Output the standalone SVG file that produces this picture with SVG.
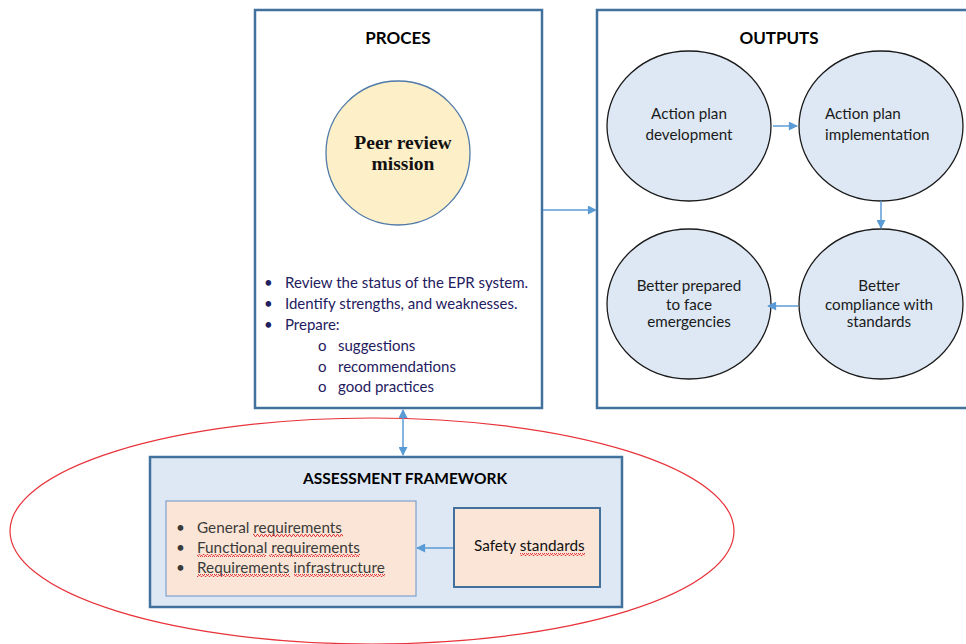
<svg xmlns="http://www.w3.org/2000/svg" width="966" height="644" viewBox="0 0 966 644">
  <style>
    .frame { fill: #ffffff; stroke: #41719c; stroke-width: 2.5; }
    .title { font-family: Lato, "Liberation Sans", sans-serif; font-weight: bold; fill: #000; text-anchor: middle; }
    .proc { font-family: Lato, "Liberation Sans", sans-serif; font-size: 15px; fill: #1f2060; }
    .out-circle { fill: #dde8f4; stroke: #1a1a1a; stroke-width: 1.3; }
    .out-text { font-family: Lato, "Liberation Sans", sans-serif; font-size: 15.2px; fill: #1a1a1a; }
    .list { font-family: Lato, "Liberation Sans", sans-serif; font-size: 15.3px; fill: #3a3a3a; }
    .conn { stroke: #5b9bd5; stroke-width: 1.5; fill: none; }
    .spell { fill: url(#wavy); }
  </style>
  <defs>
    <marker id="arrowL" viewBox="0 0 10 10" refX="9" refY="5" markerWidth="10" markerHeight="9" orient="auto-start-reverse" markerUnits="userSpaceOnUse">
      <path d="M0,0 L10,5 L0,10 z" fill="#5b9bd5"/>
    </marker>
    <!-- red wavy underline used for spell-check marks -->
    <pattern id="wavy" width="4" height="3" patternUnits="userSpaceOnUse">
      <polyline points="0,2.5 1,0.5 2,0.5 3,2.5 4,2.5" fill="none" stroke="#e0393e" stroke-width="1"/>
    </pattern>
  </defs>

  <!-- Red boundary ellipse around the assessment framework -->
  <ellipse id="boundary" cx="372" cy="531" rx="362" ry="113" fill="none" stroke="#e8333a" stroke-width="1.2"/>

  <!-- PROCES panel -->
  <g id="proces">
    <rect class="frame" x="255" y="10" width="287" height="398"/>
    <text class="title" x="398" y="44" font-size="17">PROCES</text>
    <g id="peer-review">
      <circle cx="398" cy="153" r="72" fill="#fdefc7" stroke="#4f7aa8" stroke-width="1.3"/>
      <text x="403" y="149" font-family="'Liberation Serif', 'DejaVu Serif', serif" font-weight="bold" font-size="19.5" text-anchor="middle" fill="#111">Peer review</text>
      <text x="403" y="170" font-family="'Liberation Serif', 'DejaVu Serif', serif" font-weight="bold" font-size="19.5" text-anchor="middle" fill="#111">mission</text>
    </g>
    <g class="proc">
      <text x="264" y="288">•</text>
      <text x="285" y="288">Review the status of the EPR system.</text>
      <text x="264" y="309">•</text>
      <text x="285" y="309">Identify strengths, and weaknesses.</text>
      <text x="264" y="330">•</text>
      <text x="285" y="330">Prepare:</text>
      <text x="318" y="351">o</text>
      <text x="338" y="351">suggestions</text>
      <text x="318" y="372">o</text>
      <text x="338" y="372">recommendations</text>
      <text x="318" y="392">o</text>
      <text x="338" y="392">good practices</text>
    </g>
  </g>

  <!-- OUTPUTS panel -->
  <g id="outputs">
    <rect class="frame" x="597" y="10" width="380" height="398"/>
    <text class="title" x="779" y="44" font-size="17">OUTPUTS</text>
  </g>
  <g id="plan-development">
    <ellipse class="out-circle" cx="689" cy="126" rx="82" ry="75"/>
    <text class="out-text" x="689" y="119" text-anchor="middle">Action plan</text>
    <text class="out-text" x="689" y="140" text-anchor="middle">development</text>
  </g>
  <g id="plan-implementation">
    <ellipse class="out-circle" cx="881" cy="126" rx="82" ry="75"/>
    <text class="out-text" x="825" y="119">Action plan</text>
    <text class="out-text" x="825" y="140">implementation</text>
  </g>
  <g id="better-prepared">
    <ellipse class="out-circle" cx="689" cy="304" rx="82" ry="75"/>
    <text class="out-text" x="689" y="291" text-anchor="middle">Better prepared</text>
    <text class="out-text" x="689" y="310" text-anchor="middle">to face</text>
    <text class="out-text" x="689" y="327" text-anchor="middle">emergencies</text>
  </g>
  <g id="better-compliance">
    <ellipse class="out-circle" cx="881" cy="304" rx="82" ry="75"/>
    <text class="out-text" x="879" y="291" text-anchor="middle">Better</text>
    <text class="out-text" x="879" y="310" text-anchor="middle">compliance with</text>
    <text class="out-text" x="879" y="327" text-anchor="middle">standards</text>
  </g>

  <!-- ASSESSMENT FRAMEWORK panel -->
  <g id="assessment">
    <rect x="150" y="457" width="472" height="150" fill="#dde8f4" stroke="#41719c" stroke-width="2.5"/>
    <text class="title" x="405" y="484" font-size="15.5">ASSESSMENT FRAMEWORK</text>
  </g>
  <g id="requirements">
    <rect x="166" y="501" width="250" height="95" fill="#fbe5d6" stroke="#7fa1cf" stroke-width="1.2"/>
    <g class="list">
      <text x="176" y="533">•</text>
      <text x="197" y="533">General requirements</text>
      <text x="176" y="553">•</text>
      <text x="197" y="553">Functional requirements</text>
      <text x="176" y="573">•</text>
      <text x="197" y="573">Requirements infrastructure</text>
    </g>
    <rect class="spell" x="253" y="534" width="90" height="3"/>
    <rect class="spell" x="197" y="554" width="69" height="3"/>
    <rect class="spell" x="269" y="554" width="91" height="3"/>
    <rect class="spell" x="197" y="574" width="93" height="3"/>
    <rect class="spell" x="294" y="574" width="91" height="3"/>
  </g>
  <g id="safety-standards">
    <rect x="454" y="508" width="146" height="79" fill="#fbe5d6" stroke="#41719c" stroke-width="2"/>
    <text x="474" y="551" font-family="Lato, 'Liberation Sans', sans-serif" font-size="15.3" fill="#111">Safety standards</text>
    <rect class="spell" x="520" y="553" width="65" height="3"/>
  </g>

  <!-- Connectors -->
  <g id="connectors">
    <line class="conn" x1="543" y1="210" x2="596" y2="210" marker-end="url(#arrowL)"/>
    <line class="conn" x1="773" y1="126" x2="797" y2="126" marker-end="url(#arrowL)"/>
    <line class="conn" x1="881" y1="201" x2="881" y2="228" marker-end="url(#arrowL)"/>
    <line class="conn" x1="798" y1="306" x2="768" y2="306" marker-end="url(#arrowL)"/>
    <line class="conn" x1="403" y1="410" x2="403" y2="455" marker-start="url(#arrowL)" marker-end="url(#arrowL)"/>
    <line class="conn" x1="453" y1="548" x2="417" y2="548" marker-end="url(#arrowL)"/>
  </g>
</svg>
